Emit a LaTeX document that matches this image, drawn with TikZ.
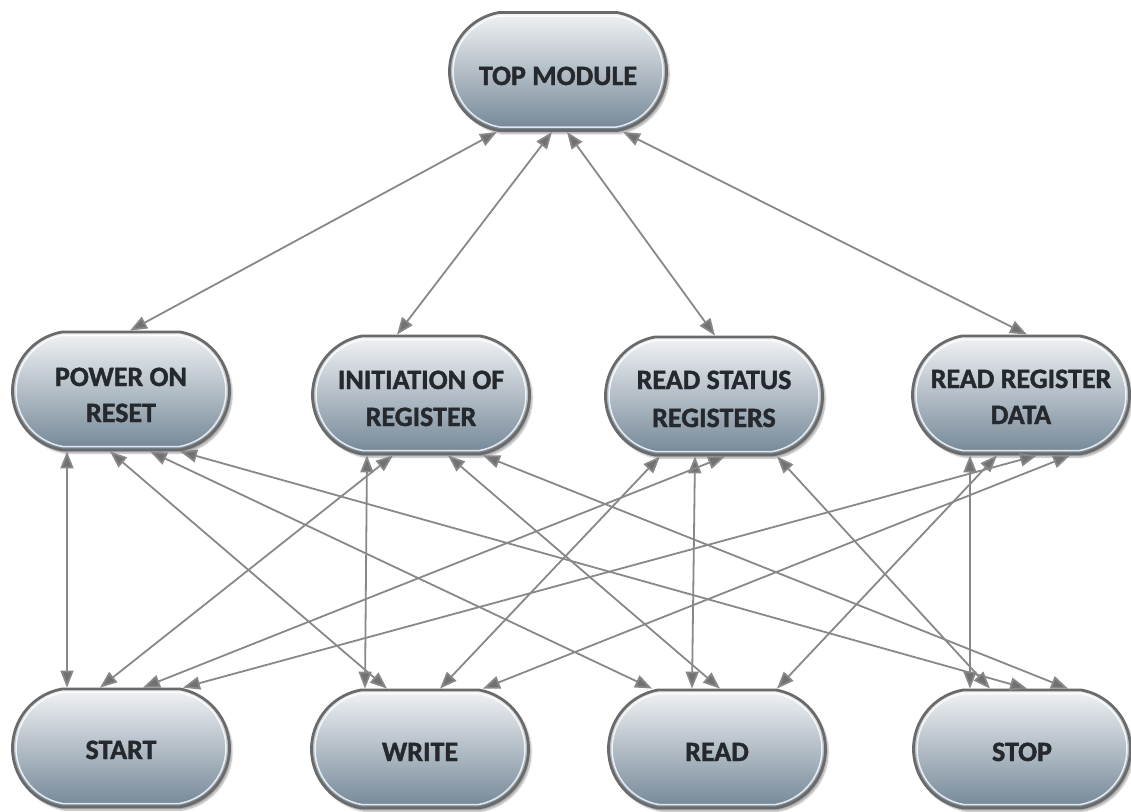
\documentclass[tikz,border=0pt]{standalone}
\usepackage{fontspec}
\newfontfamily\boxfont{Carlito}[BoldFeatures={FakeBold=1.4}]
\usetikzlibrary{arrows.meta,shadows.blur,shapes.misc}

\definecolor{boxtop}{HTML}{F1F3F5}
\definecolor{boxmid}{HTML}{C2CBD2}
\definecolor{boxbot}{HTML}{748797}
\definecolor{boxrim}{HTML}{6A6A6A}
\definecolor{boxtext}{HTML}{25292D}
\definecolor{linkgray}{HTML}{888888}
\definecolor{tipgray}{HTML}{717171}

% one centred text line, lifted by #1 above the box centre
\newcommand\boxline[2]{\makebox[0pt]{\raisebox{#1}[0pt][0pt]{#2}}}

\tikzset{
  module/.style={
    rounded rectangle, rounded rectangle arc length=160,
    minimum width=217pt, minimum height=118pt, inner sep=0pt,
    top color=boxtop, middle color=boxmid, bottom color=boxbot,
    draw=boxrim, line width=2.8pt,
    blur shadow={shadow xshift=2.5pt, shadow yshift=-3pt, shadow blur steps=6, shadow opacity=35},
    path picture={
      \draw[white, opacity=0.8, line width=1.5pt]
        ([shift={(-58.4pt,55.5pt)}]path picture bounding box.center)
        -- ++(116.8pt,0pt)
        arc[start angle=80, end angle=-80, radius=56.36pt]
        -- ++(-116.8pt,0pt)
        arc[start angle=260, end angle=100, radius=56.36pt]
        -- cycle;
    },
    text=boxtext,
    font=\boxfont\bfseries\fontsize{28}{36}\selectfont
  },
  link/.style={
    draw=linkgray, line width=1.8pt,
    {Triangle[length=17pt,width=13pt,fill=tipgray]}-{Triangle[length=17pt,width=13pt,fill=tipgray]}
  }
}

\begin{document}
\begin{tikzpicture}[x=1pt, y=-1pt]
\useasboundingbox (0,0) rectangle (1131,811);

% module boxes
\node[module] (top)   at (558,71.5) {\boxline{-13.5pt}{TOP MODULE}};
\node[module] (por)   at (121,391)  {\boxline{5pt}{POWER ON}\boxline{-31pt}{RESET}};
\node[module] (init)  at (421,395)  {\boxline{6pt}{INITIATION OF}\boxline{-31pt}{REGISTER}};
\node[module] (rs)    at (714,396)  {\boxline{7pt}{READ STATUS}\boxline{-31pt}{REGISTERS}};
\node[module] (rrd)   at (1021,395) {\boxline{7pt}{READ REGISTER}\boxline{-29pt}{DATA}};
\node[module] (start) at (121,748)  {\boxline{-11pt}{START}};
\node[module] (write) at (420,749)  {\boxline{-12pt}{WRITE}};
\node[module] (read)  at (717,749)  {\boxline{-12pt}{READ}};
\node[module] (stop)  at (1022,749) {\boxline{-12pt}{STOP}};

% top module to the four register blocks
\draw[link] ([xshift=-61pt]top.south) -- ([xshift=9pt]por.north);
\draw[link] ([xshift=-6pt]top.south)  -- ([xshift=-24pt]init.north);
\draw[link] ([xshift=9pt]top.south)   -- ([xshift=1pt]rs.north);
\draw[link] ([xshift=65pt]top.south)  -- ([xshift=6pt]rrd.north);

% power on reset
\draw[link] ([xshift=-54pt]por.south) -- ([xshift=-54pt]start.north);
\draw[link] ([xshift=-11pt]por.south) -- ([xshift=-33pt]write.north);
\draw[link] ([xshift=29pt]por.south)  -- ([xshift=-65pt]read.north);
\draw[link] ([xshift=59pt]por.south)  -- ([xshift=5pt]stop.north);

% initiation of register
\draw[link] ([xshift=-54pt]init.south) -- ([xshift=-55pt]write.north);
\draw[link] ([xshift=-28pt]init.south) -- ([xshift=-21pt]start.north);
\draw[link] ([xshift=27pt]init.south)  -- ([xshift=3pt]read.north);
\draw[link] ([xshift=62pt]init.south)  -- ([xshift=46pt]stop.north);

% read status registers
\draw[link] ([xshift=-54pt]rs.south) -- ([xshift=20pt]write.north);
\draw[link] ([xshift=-19pt]rs.south) -- ([xshift=-25pt]read.north);
\draw[link] ([xshift=11pt]rs.south)  -- ([xshift=22pt]start.north);
\draw[link] ([xshift=63pt]rs.south)  -- ([xshift=-32pt]stop.north);

% read register data
\draw[link] ([xshift=-51pt]rrd.south) -- ([xshift=-52pt]stop.north);
\draw[link] ([xshift=-24pt]rrd.south) -- ([xshift=60pt]read.north);
\draw[link] ([xshift=16pt]rrd.south)  -- ([xshift=62pt]start.north);
\draw[link] ([xshift=49pt]rrd.south)  -- ([xshift=63pt]write.north);
\end{tikzpicture}
\end{document}
